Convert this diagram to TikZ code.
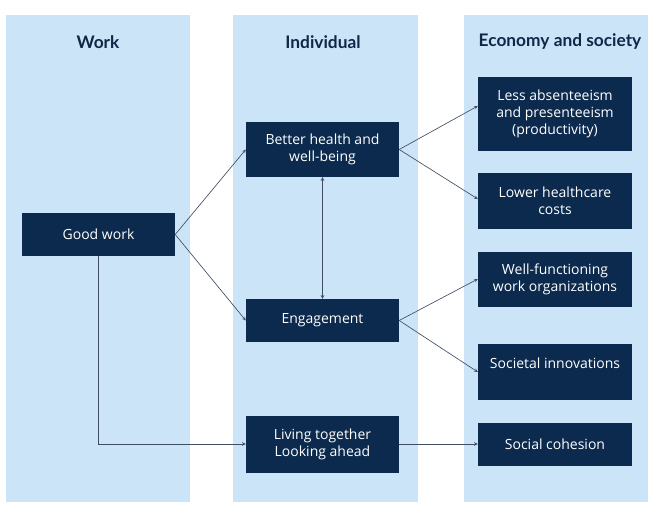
\documentclass[tikz,border=0pt]{standalone}
\usepackage{fontspec}
\setmainfont{Open Sans}
\newfontfamily\headfont{Lato}
\usepackage{tikz}
\usepackage{xcolor}
\usetikzlibrary{positioning}
\definecolor{colfill}{HTML}{CCE4F7}
\definecolor{navy}{HTML}{0C2A4D}
\definecolor{headcol}{HTML}{102748}
\definecolor{linecol}{HTML}{3F4D64}
\tikzstyle{column} = [fill=colfill]
\tikzstyle{header} = [text=headcol, font=\headfont\bfseries\fontsize{17.3}{20}\selectfont]
\tikzstyle{box} = [rectangle, minimum width=153pt, minimum height=43pt, text centered, align=center, fill=navy, text=white, font=\fontsize{14}{17}\selectfont]
\tikzstyle{arrow} = [line width=0.65pt, draw=linecol, ->, >=stealth]

\begin{document}
\begin{tikzpicture}[x=1pt, y=-1pt, node distance=120pt]
        \useasboundingbox (0,0) rectangle (661,516);
        % background columns
        \fill [column] (5.5,15) rectangle (190,502);
        \fill [column] (233,15) rectangle (417.5,502);
        \fill [column] (464,15) rectangle (648,502);

        \node (h_work) [header] at (98,42) {Work};
        \node (h_individual) [header] at (323,42) {Individual};
        \node (h_economy) [header] at (560,42) {Economy and society};

        \node (goodwork) [box] at (98.5,234.5) {Good work};
        \node (health) [box, minimum height=55pt, right of=goodwork, xshift=104pt, yshift=85pt] {Better health and\\well-being};
        \node (engage) [box, below of=health, yshift=-51pt] {Engagement};
        \node (living) [box, minimum height=57pt, below of=engage, yshift=-3.5pt] {Living together\\Looking ahead};
        \node (absent) [box, minimum width=154pt, minimum height=74pt, right of=health, xshift=112.5pt, yshift=35.5pt] {Less absenteeism\\and presenteeism\\(productivity)};
        \node (costs) [box, minimum width=154pt, minimum height=56pt, below of=absent, yshift=33pt] {Lower healthcare\\costs};
        \node (orgs) [box, minimum width=154pt, minimum height=55pt, right of=engage, xshift=112.5pt, yshift=41.5pt] {Well-functioning\\work organizations};
        \node (societal) [box, minimum width=154pt, minimum height=56pt, text depth=17pt, below of=orgs, yshift=27pt] {Societal innovations};
        \node (cohesion) [box, minimum width=154pt, right of=living, xshift=112.5pt] {Social cohesion};

        \draw [arrow] (goodwork.east) -- (health.west);
        \draw [arrow] (goodwork.east) -- (engage.west);
        \draw [arrow] (goodwork.south) |- (living.west);
        \draw [arrow, <->] (health.south) -- (engage.north);
        \draw [arrow] (health.east) -- ([yshift=8pt]absent.west);
        \draw [arrow] (health.east) -- ([yshift=2pt]costs.west);
        \draw [arrow] (engage.east) -- (orgs.west);
        \draw [arrow] (engage.east) -- (societal.west);
        \draw [arrow] (living.east) -- (cohesion.west);
    \end{tikzpicture}
\end{document}
